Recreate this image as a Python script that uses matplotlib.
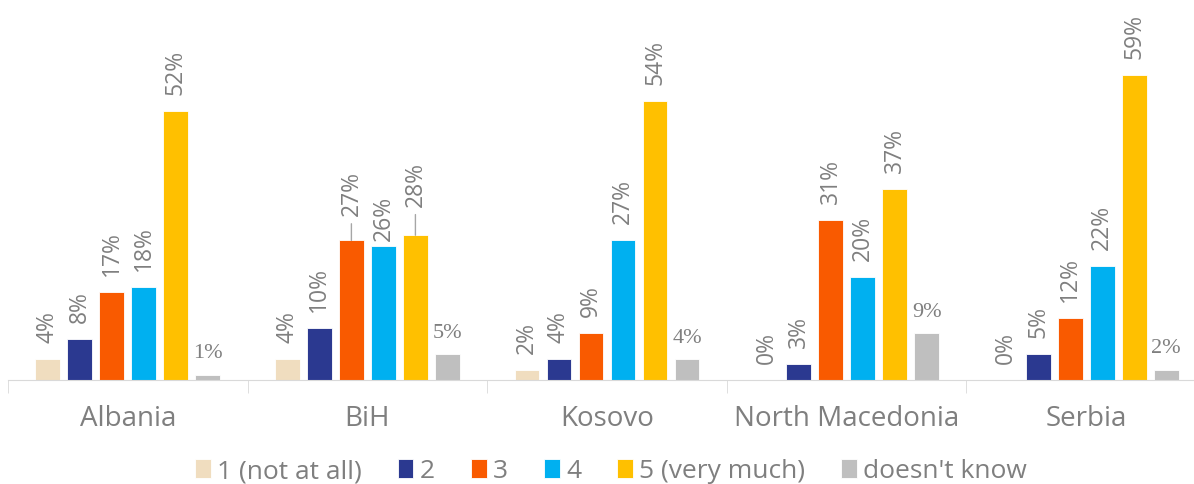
import numpy as np
import matplotlib
matplotlib.use('Agg')
import matplotlib.pyplot as plt

# survey answers per country, shares in percent
countries = ['Albania', 'BiH', 'Kosovo', 'North Macedonia', 'Serbia']
answers = ['1 (not at all)', '2', '3', '4', '5 (very much)', "doesn't know"]
not_at_all = [4, 4, 2, 0, 0]
two = [8, 10, 4, 3, 5]
three = [17, 27, 9, 31, 12]
four = [18, 26, 27, 20, 22]
very_much = [52, 28, 54, 37, 59]
dont_know = [1, 5, 4, 9, 2]

series = [not_at_all, two, three, four, very_much, dont_know]
colors = ['#F0DDBF', '#2B3990', '#F95A00', '#00B0F0', '#FFC000', '#BFBFBF']

TEXT = '#7F7F7F'
plt.rcParams['font.family'] = ['Open Sans', 'DejaVu Sans']

fig = plt.figure(figsize=(11.94, 4.85), dpi=100)
# axes runs a bit past the right edge so the last group is cut like the original
ax = fig.add_axes([8 / 1194, 104 / 485, 1198 / 1194, 381 / 485])

x = np.arange(len(countries))
pitch = 0.1336
width = 0.104

# a few labels sit higher/lower to avoid overlapping (extra px, keyed by series, country)
label_shift = {(2, 1): 8, (3, 1): -11, (4, 1): 12}

for k, (vals, col) in enumerate(zip(series, colors)):
    xs = x + (k - 2.5) * pitch
    ax.bar(xs, vals, width, color=col, edgecolor='white', linewidth=0.6,
           label=answers[k], zorder=2)
    for j, (xi, v) in enumerate(zip(xs, vals)):
        if k == 5:
            ax.annotate(f'{v}%', (xi, v), xytext=(0, 9), textcoords='offset points',
                        ha='center', va='bottom', fontsize=16, color=TEXT,
                        family='Liberation Serif')
            continue
        shift = label_shift.get((k, j), 0)
        off = (17 + shift) * 0.72
        ax.annotate(f'{v}%', (xi, v), xytext=(0, off), textcoords='offset points',
                    ha='center', va='bottom', rotation=90, fontsize=16.5, color=TEXT)
        if shift > 0:
            # leader line from bar top to the moved label
            ax.annotate('', (xi, v), xytext=(0, off - 6), textcoords='offset points',
                        arrowprops=dict(arrowstyle='-', color='#A6A6A6', lw=1,
                                        shrinkA=0, shrinkB=0))

ax.set_xlim(-0.5, 4.5)
ax.set_ylim(0, 73.7)

for s in ['top', 'right', 'left']:
    ax.spines[s].set_visible(False)
ax.spines['bottom'].set_color('#D9D9D9')
ax.set_yticks([])

ax.set_xticks(x)
ax.set_xticklabels(countries, fontsize=20, color=TEXT)
ax.tick_params(axis='x', which='major', length=0, pad=17)
ax.set_xticks(np.arange(-0.5, 5, 1), minor=True)
ax.tick_params(axis='x', which='minor', length=9, color='#D9D9D9', direction='out')

fig.legend(loc='center', bbox_to_anchor=(611 / 1194, 13 / 485), ncol=6, frameon=False,
           fontsize=19, labelcolor=TEXT, handlelength=0.6, handleheight=0.7,
           handletextpad=0.25, columnspacing=1.35)

plt.savefig('out.png', dpi=100)
